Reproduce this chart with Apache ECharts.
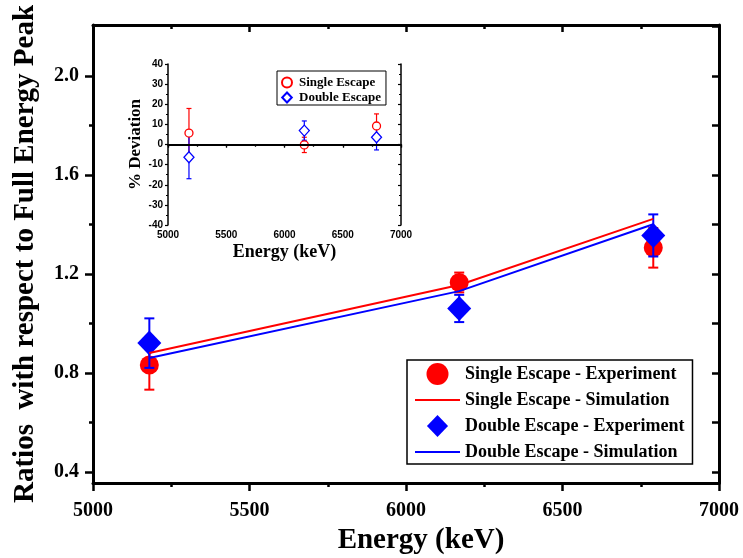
<!DOCTYPE html>
<html>
<head>
<meta charset="utf-8">
<script src="https://cdn.jsdelivr.net/npm/echarts@6/dist/echarts.min.js"></script>
<style>
html,body{margin:0;padding:0;background:#fff;}
#chart{width:743px;height:558px;}
</style>
</head>
<body>
<div id="chart"></div>
<script>
// ---------------- DATA ----------------
const energies = [5180, 6170, 6790];

const seExp = [0.832, 1.165, 1.305];
const seExpErr = [0.10, 0.04, 0.08];
const deExp = [0.92, 1.06, 1.355];
const deExpErr = [0.10, 0.055, 0.085];
const seSim = [0.88, 1.155, 1.422];
const deSim = [0.86, 1.13, 1.40];

const seDev = [5.7, -0.2, 9.2];
const seDevErr = [12.2, 3.8, 6.0];
const deDev = [-6.3, 6.9, 3.6];
const deDevErr = [10.7, 4.8, 6.3];

const mainYLabels = [0.4, 0.8, 1.2, 1.6, 2.0];
const mainYMinor = [0.6, 1.0, 1.4, 1.8];
const mainYRight = [0.4, 0.6, 0.8, 1.0, 1.2, 1.4, 1.6, 1.8, 2.0, 2.2];

const legendNames = ['Single Escape - Experiment', 'Single Escape - Simulation',
                     'Double Escape - Experiment', 'Double Escape - Simulation'];
const insetNames = ['Single Escape', 'Double Escape'];

// ---------------- HELPERS ----------------
const SERIF = '"Times New Roman","Liberation Serif",serif';
const SANS = 'Arial,"Liberation Sans",sans-serif';
const pairs = (xs, ys) => xs.map((x, i) => [x, ys[i]]);
const errs = (xs, ys, es) => xs.map((x, i) => [x, ys[i] - es[i], ys[i] + es[i]]);
const plain = v => String(v);
const LINE_ICON = 'path://M0,0L45,0L45,2L0,2Z';
const DIAMOND_ICON = 'path://M12,0L24,12.5L12,25L0,12.5Z';

function errRender(capHalf, lw, color) {
  return function (params, api) {
    const x = api.value(0), lo = api.value(1), hi = api.value(2);
    const a = api.coord([x, lo]), b = api.coord([x, hi]);
    const st = {stroke: color, lineWidth: lw};
    return {type: 'group', children: [
      {type: 'line', shape: {x1: a[0], y1: a[1], x2: b[0], y2: b[1]}, style: st},
      {type: 'line', shape: {x1: a[0] - capHalf, y1: a[1], x2: a[0] + capHalf, y2: a[1]}, style: st},
      {type: 'line', shape: {x1: b[0] - capHalf, y1: b[1], x2: b[0] + capHalf, y2: b[1]}, style: st}
    ]};
  };
}

const MY_MIN = 0.355, MY_MAX = 2.205;
const axLineMain = {show: true, lineStyle: {color: '#000', width: 3}};
const axLineInset = {show: true, lineStyle: {color: '#000', width: 1.5}};

const option = {
  animation: false,
  backgroundColor: '#fff',
  grid: [
    {left: 93, right: 24, top: 25, bottom: 75, outerBoundsMode: 'none', containLabel: false},
    {left: 168, top: 64, width: 233, height: 161, outerBoundsMode: 'none', containLabel: false}
  ],
  xAxis: [
    { // main bottom
      gridIndex: 0, type: 'value', position: 'bottom', min: 5000, max: 7000, interval: 500,
      name: 'Energy (keV)', nameLocation: 'middle', nameGap: 38,
      nameTextStyle: {fontFamily: SERIF, fontWeight: 'bold', fontSize: 29, color: '#000',
                      padding: [0, 0, 0, 30]},
      axisLine: axLineMain,
      axisTick: {show: true, inside: false, length: 8, lineStyle: {color: '#000', width: 2.5}},
      minorTick: {show: true, splitNumber: 2, length: 4, lineStyle: {color: '#000', width: 2.5}},
      axisLabel: {margin: 18, formatter: plain, fontFamily: SERIF, fontWeight: 'bold', fontSize: 20,
                  color: '#000', showMinLabel: true, showMaxLabel: true},
      splitLine: {show: false}
    },
    { // main top
      gridIndex: 0, type: 'value', position: 'top', min: 5000, max: 7000, interval: 500,
      axisLine: axLineMain,
      axisTick: {show: true, inside: true, length: 7, lineStyle: {color: '#000', width: 2.5}},
      minorTick: {show: true, splitNumber: 2, length: 4, lineStyle: {color: '#000', width: 2.5}},
      axisLabel: {show: false}, splitLine: {show: false}
    },
    { // inset bottom
      gridIndex: 1, type: 'value', position: 'bottom', min: 5000, max: 7000, interval: 500,
      name: 'Energy (keV)', nameLocation: 'middle', nameGap: 18,
      nameTextStyle: {fontFamily: SERIF, fontWeight: 'bold', fontSize: 18, color: '#000'},
      axisLine: axLineInset,
      axisTick: {show: true, inside: false, length: 3, lineStyle: {color: '#000', width: 1.2}},
      minorTick: {show: true, splitNumber: 2, length: 2, lineStyle: {color: '#000', width: 1.2}},
      axisLabel: {margin: 5, formatter: plain, fontFamily: SANS, fontWeight: 'bold', fontSize: 10,
                  color: '#000', showMinLabel: true, showMaxLabel: true},
      splitLine: {show: false}
    },
    { // inset top
      gridIndex: 1, type: 'value', position: 'top', min: 5000, max: 7000, interval: 500,
      axisLine: axLineInset,
      axisTick: {show: true, inside: true, length: 3, lineStyle: {color: '#000', width: 1.2}},
      minorTick: {show: true, splitNumber: 2, length: 2, lineStyle: {color: '#000', width: 1.2}},
      axisLabel: {show: false}, splitLine: {show: false}
    }
  ],
  yAxis: [
    { // main left
      gridIndex: 0, type: 'value', position: 'left', min: MY_MIN, max: MY_MAX,
      name: 'Ratios  with respect to Full Energy Peak', nameLocation: 'middle', nameGap: 53,
      nameTextStyle: {fontFamily: SERIF, fontWeight: 'bold', fontSize: 29, color: '#000'},
      axisLine: axLineMain,
      axisTick: {show: true, inside: false, length: 8, customValues: mainYLabels,
                 lineStyle: {color: '#000', width: 2.5}},
      axisLabel: {margin: 14, customValues: mainYLabels, formatter: v => v.toFixed(1),
                  fontFamily: SERIF, fontWeight: 'bold', fontSize: 20, color: '#000'},
      splitLine: {show: false}
    },
    { // main left minor ticks
      gridIndex: 0, type: 'value', position: 'left', min: MY_MIN, max: MY_MAX,
      axisLine: {show: false},
      axisTick: {show: true, inside: false, length: 4, customValues: mainYMinor,
                 lineStyle: {color: '#000', width: 2.5}},
      axisLabel: {show: false}, splitLine: {show: false}
    },
    { // main right
      gridIndex: 0, type: 'value', position: 'right', min: MY_MIN, max: MY_MAX,
      axisLine: axLineMain,
      axisTick: {show: true, inside: true, length: 7, customValues: mainYRight,
                 lineStyle: {color: '#000', width: 2.5}},
      axisLabel: {show: false}, splitLine: {show: false}
    },
    { // inset left
      gridIndex: 1, type: 'value', position: 'left', min: -40, max: 40, interval: 10,
      name: '% Deviation', nameLocation: 'middle', nameGap: 24,
      nameTextStyle: {fontFamily: SERIF, fontWeight: 'bold', fontSize: 17, color: '#000'},
      axisLine: axLineInset,
      axisTick: {show: true, inside: false, length: 3, lineStyle: {color: '#000', width: 1.2}},
      minorTick: {show: true, splitNumber: 2, length: 2, lineStyle: {color: '#000', width: 1.2}},
      axisLabel: {margin: 5, fontFamily: SANS, fontWeight: 'bold', fontSize: 10, color: '#000'},
      splitLine: {show: false}
    },
    { // inset right
      gridIndex: 1, type: 'value', position: 'right', min: -40, max: 40, interval: 10,
      axisLine: axLineInset,
      axisTick: {show: true, inside: true, length: 3, lineStyle: {color: '#000', width: 1.2}},
      minorTick: {show: true, splitNumber: 2, length: 2, lineStyle: {color: '#000', width: 1.2}},
      axisLabel: {show: false}, splitLine: {show: false}
    }
  ],
  legend: [
    {
      left: 407, top: 360, orient: 'vertical', selectedMode: false, symbolKeepAspect: true,
      padding: [3, 8, 3, 8], itemWidth: 45, itemHeight: 22, itemGap: 6,
      borderColor: '#000', borderWidth: 1.5, backgroundColor: '#fff',
      textStyle: {fontFamily: SERIF, fontWeight: 'bold', fontSize: 18, color: '#000'},
      data: [
        {name: legendNames[0], icon: 'circle'},
        {name: legendNames[1], icon: LINE_ICON},
        {name: legendNames[2], icon: DIAMOND_ICON},
        {name: legendNames[3], icon: LINE_ICON}
      ]
    },
    {
      left: 277, top: 71, orient: 'vertical', selectedMode: false, symbolKeepAspect: true,
      padding: [5, 5, 1, 4], itemWidth: 14, itemHeight: 10, itemGap: 2,
      borderColor: '#000', borderWidth: 1, backgroundColor: '#fff',
      textStyle: {fontFamily: SERIF, fontWeight: 'bold', fontSize: 13, color: '#000'},
      data: [
        {name: insetNames[0], icon: 'circle'},
        {name: insetNames[1], icon: DIAMOND_ICON}
      ]
    }
  ],
  series: [
    // main
    {type: 'custom', xAxisIndex: 0, yAxisIndex: 0, z: 2,
     renderItem: errRender(5, 2, '#ff0000'), data: errs(energies, seExp, seExpErr)},
    {type: 'scatter', name: legendNames[0], xAxisIndex: 0, yAxisIndex: 0, z: 3,
     symbol: 'circle', symbolSize: 19, itemStyle: {color: '#ff0000', opacity: 1},
     data: pairs(energies, seExp)},
    {type: 'custom', xAxisIndex: 0, yAxisIndex: 0, z: 4,
     renderItem: errRender(5, 2, '#0000ff'), data: errs(energies, deExp, deExpErr)},
    {type: 'scatter', name: legendNames[2], xAxisIndex: 0, yAxisIndex: 0, z: 5,
     symbol: 'diamond', symbolSize: [24, 25], itemStyle: {color: '#0000ff', opacity: 1},
     data: pairs(energies, deExp)},
    {type: 'line', name: legendNames[1], xAxisIndex: 0, yAxisIndex: 0, z: 6,
     symbol: 'none', lineStyle: {color: '#ff0000', width: 2}, itemStyle: {color: '#ff0000'},
     data: pairs(energies, seSim)},
    {type: 'line', name: legendNames[3], xAxisIndex: 0, yAxisIndex: 0, z: 6,
     symbol: 'none', lineStyle: {color: '#0000ff', width: 2}, itemStyle: {color: '#0000ff'},
     data: pairs(energies, deSim)},
    // inset
    {type: 'line', xAxisIndex: 2, yAxisIndex: 3, z: 2, symbol: 'none', data: [],
     markLine: {silent: true, symbol: 'none', label: {show: false},
                lineStyle: {color: '#000', width: 2, type: 'solid'}, data: [{yAxis: 0}]}},
    {type: 'custom', xAxisIndex: 2, yAxisIndex: 3, z: 3,
     renderItem: errRender(2.5, 1.2, '#ff0000'), data: errs(energies, seDev, seDevErr)},
    {type: 'custom', xAxisIndex: 2, yAxisIndex: 3, z: 3,
     renderItem: errRender(2.5, 1.2, '#0000ff'), data: errs(energies, deDev, deDevErr)},
    {type: 'scatter', name: insetNames[0], xAxisIndex: 2, yAxisIndex: 3, z: 4,
     symbol: 'circle', symbolSize: 8,
     itemStyle: {color: '#fff', borderColor: '#ff0000', borderWidth: 1.3, opacity: 1},
     data: pairs(energies, seDev)},
    {type: 'scatter', name: insetNames[1], xAxisIndex: 2, yAxisIndex: 3, z: 4,
     symbol: 'diamond', symbolSize: [10, 11],
     itemStyle: {color: '#fff', borderColor: '#0000ff', borderWidth: 1.3, opacity: 1},
     data: pairs(energies, deDev)}
  ]
};

const chart = echarts.init(document.getElementById('chart'), null, {renderer: 'canvas'});
chart.setOption(option);
</script>
</body>
</html>
